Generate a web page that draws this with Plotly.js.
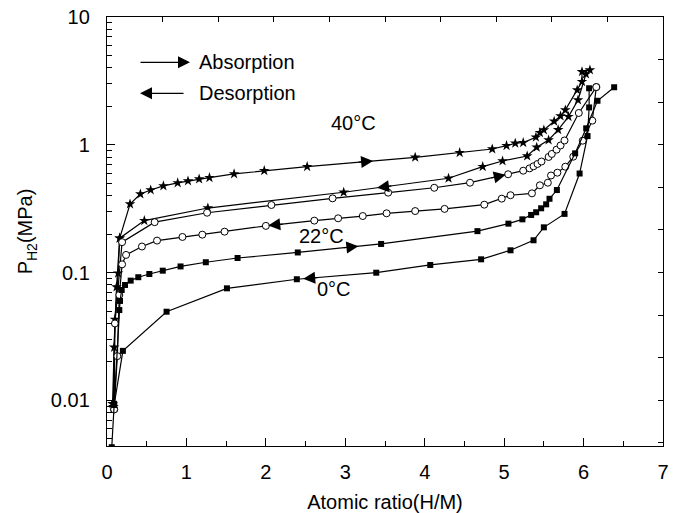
<!DOCTYPE html>
<html>
<head>
<meta charset="utf-8">
<script src="https://cdn.plot.ly/plotly-3.0.1.min.js"></script>
<style>
html,body{margin:0;padding:0;background:#fff;}
#chart{width:680px;height:513px;}
</style>
</head>
<body>
<div id="chart"></div>
<script>
// ---- data ----
const abs40X = [0.07, 0.10, 0.14, 0.16, 0.29, 0.42, 0.55, 0.71, 0.89, 1.02, 1.16, 1.29, 1.60, 1.98, 2.52, 3.88, 4.44, 4.85, 5.03, 5.14, 5.24, 5.40, 5.45, 5.50, 5.63, 5.71, 5.77, 5.92, 5.98, 5.98, 6.08];
const abs40P = [0.0094, 0.043, 0.099, 0.186, 0.344, 0.412, 0.443, 0.477, 0.503, 0.521, 0.540, 0.553, 0.592, 0.627, 0.674, 0.798, 0.867, 0.927, 0.984, 1.028, 1.040, 1.146, 1.245, 1.306, 1.528, 1.68, 1.87, 2.68, 3.12, 3.73, 3.85];

const des40X = [6.03, 5.93, 5.81, 5.68, 5.56, 5.41, 5.29, 4.98, 4.73, 4.30, 2.98, 1.27, 0.47, 0.16, 0.12, 0.09, 0.08];
const des40P = [3.58, 2.24, 1.66, 1.31, 1.09, 0.956, 0.817, 0.747, 0.674, 0.547, 0.425, 0.320, 0.255, 0.186, 0.077, 0.026, 0.0089];

const abs22X = [0.09, 0.10, 0.19, 0.60, 1.26, 2.07, 2.84, 3.54, 4.12, 4.57, 5.05, 5.24, 5.32, 5.37, 5.42, 5.47, 5.56, 5.60, 5.66, 5.71, 5.76, 5.94, 6.16];
const abs22P = [0.0085, 0.040, 0.173, 0.248, 0.294, 0.338, 0.381, 0.422, 0.461, 0.505, 0.588, 0.627, 0.654, 0.679, 0.708, 0.740, 0.803, 0.848, 0.916, 0.988, 1.081, 1.774, 2.83];

const des22X = [6.16, 6.11, 5.99, 5.87, 5.77, 5.67, 5.59, 5.55, 5.45, 5.35, 5.08, 4.97, 4.75, 4.25, 3.88, 3.52, 3.22, 2.91, 2.61, 2.00, 1.48, 1.20, 0.95, 0.63, 0.44, 0.24, 0.19, 0.155, 0.13, 0.09];
const des22P = [2.83, 1.545, 1.077, 0.807, 0.674, 0.605, 0.575, 0.505, 0.482, 0.417, 0.403, 0.379, 0.340, 0.315, 0.303, 0.291, 0.277, 0.266, 0.255, 0.232, 0.209, 0.198, 0.190, 0.178, 0.160, 0.1375, 0.116, 0.0668, 0.0222, 0.0085];

const abs0X = [0.06, 0.09, 0.155, 0.164, 0.185, 0.227, 0.298, 0.394, 0.533, 0.702, 0.926, 1.244, 1.644, 2.402, 3.451, 4.664, 5.054, 5.230, 5.340, 5.403, 5.466, 5.529, 5.571, 5.664, 5.894, 6.033, 6.175, 6.385];
const abs0P = [0.0043, 0.0094, 0.0509, 0.060, 0.0731, 0.080, 0.0865, 0.092, 0.0975, 0.1035, 0.1117, 0.1205, 0.130, 0.1437, 0.1675, 0.211, 0.2415, 0.261, 0.2825, 0.2965, 0.3185, 0.342, 0.378, 0.4425, 0.857, 1.345, 2.21, 2.82];

const des0X = [6.07, 6.07, 6.05, 5.95, 5.76, 5.50, 5.37, 5.08, 4.71, 4.07, 3.39, 2.39, 1.51, 0.75, 0.20, 0.09];
const des0P = [2.77, 1.96, 1.17, 0.596, 0.288, 0.226, 0.179, 0.1494, 0.127, 0.1147, 0.0998, 0.0887, 0.0753, 0.0494, 0.0244, 0.0092];

const xTickVals = [0, 1, 2, 3, 4, 5, 6, 7];
const yTickVals = [0.01, 0.1, 1, 10];
const yTickText = ['0.01', '0.1', '1', '10'];
const tempLabels = ['40\u00B0C', '22\u00B0C', '0\u00B0C'];
const legendLabels = ['Absorption', 'Desorption'];
const xTitle = 'Atomic ratio(H/M)';
const yTitle = 'P<sub>H2</sub>(MPa)';

// ---- styling / placement ----
const FONT = 'Liberation Sans, Arial, Helvetica, sans-serif';
const YMIN_LOG = -2.357, YMAX_LOG = 1;
const lineStyle = {color: '#000', width: 1.2};

function series(xs, ps, marker) {
  return {x: xs, y: ps, type: 'scatter', mode: 'lines+markers', line: lineStyle,
          marker: marker, showlegend: false, hoverinfo: 'skip', cliponaxis: true};
}
const starM = {symbol: 'star', size: 8, color: '#000', line: {width: 0}};
const circM = {symbol: 'circle', size: 7, color: '#fff', line: {color: '#000', width: 1}};
const sqM = {symbol: 'square', size: 6, color: '#000', line: {width: 0}};

const traces = [
  series(abs40X, abs40P, starM),
  series(des40X, des40P, starM),
  series(abs22X, abs22P, circM),
  series(des22X, des22P, circM),
  series(abs0X, abs0P, sqM),
  series(des0X, des0P, sqM),
  {x: [null], y: [null], xaxis: 'x2', yaxis: 'y2', type: 'scatter', mode: 'markers',
   showlegend: false, hoverinfo: 'skip'}
];

// log-linear interpolation along a series
function logAt(xs, ps, x) {
  for (let i = 0; i < xs.length - 1; i++) {
    const a = xs[i], b = xs[i + 1];
    if ((x - a) * (x - b) <= 0 && a !== b) {
      const t = (x - a) / (b - a);
      return Math.log10(ps[i]) + t * (Math.log10(ps[i + 1]) - Math.log10(ps[i]));
    }
  }
  return null;
}

// direction arrows placed on the curves (tip x, direction)
const arrowSpecs = [
  {xs: abs40X, ps: abs40P, tip: 3.35, dir: 1},
  {xs: des40X, ps: des40P, tip: 3.40, dir: -1},
  {xs: abs22X, ps: abs22P, tip: 5.02, dir: 1},
  {xs: des22X, ps: des22P, tip: 2.03, dir: -1},
  {xs: abs0X, ps: abs0P, tip: 3.165, dir: 1},
  {xs: des0X, ps: des0P, tip: 2.47, dir: -1}
];
const annotations = [];
arrowSpecs.forEach(s => {
  const tail = s.tip - s.dir * 0.2;
  annotations.push({
    x: s.tip, y: logAt(s.xs, s.ps, s.tip), ax: tail, ay: logAt(s.xs, s.ps, tail),
    xref: 'x', yref: 'y', axref: 'x', ayref: 'y', text: '', showarrow: true,
    arrowhead: 2, arrowsize: 2, arrowwidth: 1.2, arrowcolor: '#000'
  });
});

// legend arrows and texts
annotations.push({x: 0.1493, y: 0.8944, xref: 'paper', yref: 'paper', ax: -51, ay: 0,
  text: '', showarrow: true, arrowhead: 2, arrowsize: 2, arrowwidth: 1.2, arrowcolor: '#000'});
annotations.push({x: 0.0594, y: 0.8221, xref: 'paper', yref: 'paper', ax: 45, ay: 0,
  text: '', showarrow: true, arrowhead: 2, arrowsize: 2, arrowwidth: 1.2, arrowcolor: '#000'});
annotations.push({x: 0.1613, y: 0.8944, xref: 'paper', yref: 'paper', xanchor: 'left', yanchor: 'middle',
  text: legendLabels[0], showarrow: false, font: {family: FONT, size: 20, color: '#000'}});
annotations.push({x: 0.1613, y: 0.8221, xref: 'paper', yref: 'paper', xanchor: 'left', yanchor: 'middle',
  text: legendLabels[1], showarrow: false, font: {family: FONT, size: 20, color: '#000'}});

// temperature labels
const tempPos = [[3.10, 0.171], [2.70, -0.714], [2.86, -1.128]];
tempLabels.forEach((t, i) => {
  annotations.push({x: tempPos[i][0], y: tempPos[i][1], xref: 'x', yref: 'y', text: t,
    showarrow: false, xanchor: 'center', yanchor: 'middle',
    font: {family: FONT, size: 20, color: '#000'}});
});

// y minor ticks
const minorY = [];
for (let d = -3; d <= 0; d++) for (let k = 2; k <= 9; k++) {
  const v = k * Math.pow(10, d);
  if (Math.log10(v) > YMIN_LOG && Math.log10(v) < YMAX_LOG) minorY.push(v);
}

const layout = {
  width: 680, height: 513,
  margin: {l: 107, r: 17, t: 17, b: 67, pad: 0},
  paper_bgcolor: '#fff', plot_bgcolor: '#fff',
  font: {family: FONT, color: '#000', size: 20},
  showlegend: false,
  xaxis: {
    range: [0, 7], tickmode: 'linear', tick0: 0, dtick: 1,
    ticks: 'inside', ticklen: 8, tickwidth: 1, tickcolor: '#000',
    showline: true, linecolor: '#000', linewidth: 1.2, showgrid: false, zeroline: false,
    tickfont: {family: FONT, size: 20, color: '#000'}, ticklabelstandoff: 8,
    minor: {ticks: 'inside', ticklen: 5, tickwidth: 1, tickcolor: '#000', dtick: 0.5, tick0: 0},
    title: {text: xTitle, font: {family: FONT, size: 20, color: '#000'}, standoff: 12},
    automargin: false, fixedrange: true
  },
  yaxis: {
    type: 'log', range: [YMIN_LOG, YMAX_LOG], tickmode: 'array', tickvals: yTickVals, ticktext: yTickText,
    ticks: 'inside', ticklen: 8, tickwidth: 1, tickcolor: '#000',
    showline: true, linecolor: '#000', linewidth: 1.2, showgrid: false, zeroline: false,
    tickfont: {family: FONT, size: 20, color: '#000'}, ticklabelstandoff: 12,
    minor: {ticks: 'inside', ticklen: 5, tickwidth: 1, tickcolor: '#000', tickmode: 'array', tickvals: minorY},
    title: {text: yTitle, font: {family: FONT, size: 20, color: '#000'}, standoff: 12},
    automargin: false, fixedrange: true
  },
  xaxis2: {
    overlaying: 'x', side: 'top', range: [0, 7], tickmode: 'linear', tick0: 0, dtick: 0.7,
    ticks: 'inside', ticklen: 5, tickwidth: 1, tickcolor: '#000', showticklabels: false,
    showline: true, linecolor: '#000', linewidth: 1.2, showgrid: false, zeroline: false, fixedrange: true
  },
  yaxis2: {
    overlaying: 'y', side: 'right', range: [YMIN_LOG, YMAX_LOG], tickmode: 'linear', tick0: 1, dtick: 1 / 3,
    ticks: 'inside', ticklen: 5, tickwidth: 1, tickcolor: '#000', showticklabels: false,
    showline: true, linecolor: '#000', linewidth: 1.2, showgrid: false, zeroline: false, fixedrange: true
  },
  annotations: annotations
};

Plotly.newPlot('chart', traces, layout, {staticPlot: true, displayModeBar: false});
</script>
</body>
</html>
